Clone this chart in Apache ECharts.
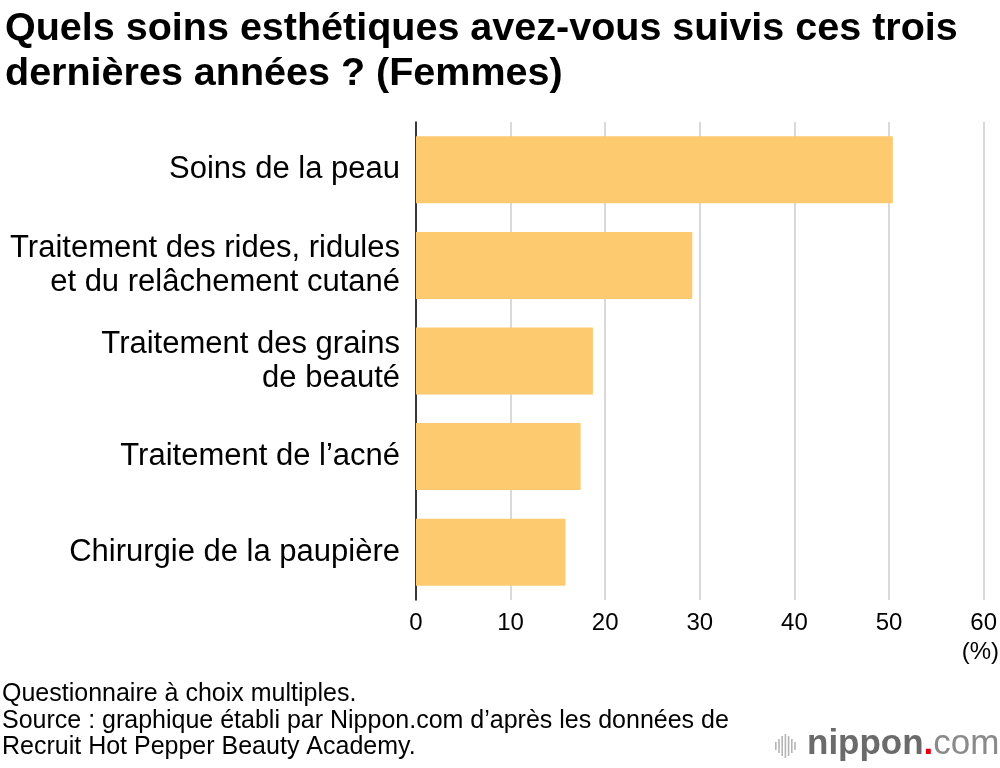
<!DOCTYPE html>
<html>
<head>
<meta charset="utf-8">
<script src="https://cdn.jsdelivr.net/npm/echarts@6/dist/echarts.min.js"></script>
<style>
  html, body { margin: 0; padding: 0; background: #fff; }
  #container { width: 1000px; height: 768px; }
</style>
</head>
<body>
<div id="container"></div>
<script>
var categories = [
    'Soins de la peau',
    'Traitement des rides, ridules\net du relâchement cutané',
    'Traitement des grains\nde beauté',
    'Traitement de l\u2019acné',
    'Chirurgie de la paupière'
];
var values = [50.4, 29.2, 18.7, 17.4, 15.8];
var xTicks = [0, 10, 20, 30, 40, 50, 60];

var font = '"Liberation Sans", Arial, Helvetica, sans-serif';
var dom = document.getElementById('container');
var myChart = echarts.init(dom);

// little logo icon: vertical strokes
var iconBars = [];
var iconH = [8, 14, 20, 24, 20, 14, 8];
for (var i = 0; i < iconH.length; i++) {
    iconBars.push({
        type: 'rect',
        shape: { x: 775 + i * 3.2, y: 746 - iconH[i] / 2, width: 1.6, height: iconH[i] },
        style: { fill: '#b5b5b5' }
    });
}

var option = {
    animation: false,
    backgroundColor: '#fff',
    title: {
        text: 'Quels soins esthétiques avez-vous suivis ces trois\ndernières années ? (Femmes)',
        left: 0,
        top: 2,
        textStyle: {
            fontFamily: font,
            fontSize: 39.5,
            fontWeight: 'bold',
            color: '#000',
            lineHeight: 45
        }
    },
    grid: {
        left: 416,
        right: 15,
        top: 122,
        bottom: 168,
        containLabel: false
    },
    xAxis: {
        type: 'value',
        min: 0,
        max: 60,
        interval: 10,
        axisLine: { show: false },
        axisTick: { show: false },
        axisLabel: {
            fontFamily: font,
            fontSize: 24,
            color: '#000',
            margin: 11,
            formatter: function (v) { return xTicks.indexOf(v) >= 0 ? String(v) : ''; }
        },
        splitLine: { show: true, lineStyle: { color: '#cccccc', width: 1.5 } }
    },
    yAxis: {
        type: 'category',
        inverse: true,
        data: categories,
        axisLine: { show: true, lineStyle: { color: '#000', width: 1.5 } },
        axisTick: { show: false },
        axisLabel: {
            fontFamily: font,
            fontSize: 31,
            color: '#000',
            margin: 16,
            lineHeight: 34,
            align: 'right'
        }
    },
    series: [{
        type: 'bar',
        data: values,
        barWidth: 67,
        itemStyle: { color: '#fdca6f' },
        z: 1
    }],
    graphic: [
        {
            type: 'text',
            right: 1,
            top: 640,
            style: { text: '(%)', font: '24px ' + font, fill: '#000', textAlign: 'right' }
        },
        {
            type: 'text',
            left: 2,
            top: 681,
            style: {
                text: 'Questionnaire à choix multiples.\nSource : graphique établi par Nippon.com d\u2019après les données de\nRecruit Hot Pepper Beauty Academy.',
                font: '25px ' + font,
                lineHeight: 26.5,
                fill: '#000'
            }
        },
        {
            type: 'group',
            children: iconBars
        },
        {
            type: 'text',
            left: 807,
            top: 727,
            style: {
                rich: {
                    a: { fontFamily: font, fontSize: 35, fontWeight: 'bold', fill: '#6b6b6b' },
                    b: { fontFamily: font, fontSize: 35, fontWeight: 'bold', fill: '#e60012' },
                    c: { fontFamily: font, fontSize: 35, fill: '#8a8a8a' }
                },
                text: '{a|nippon}{b|.}{c|com}'
            }
        }
    ]
};
myChart.setOption(option);
</script>
</body>
</html>
